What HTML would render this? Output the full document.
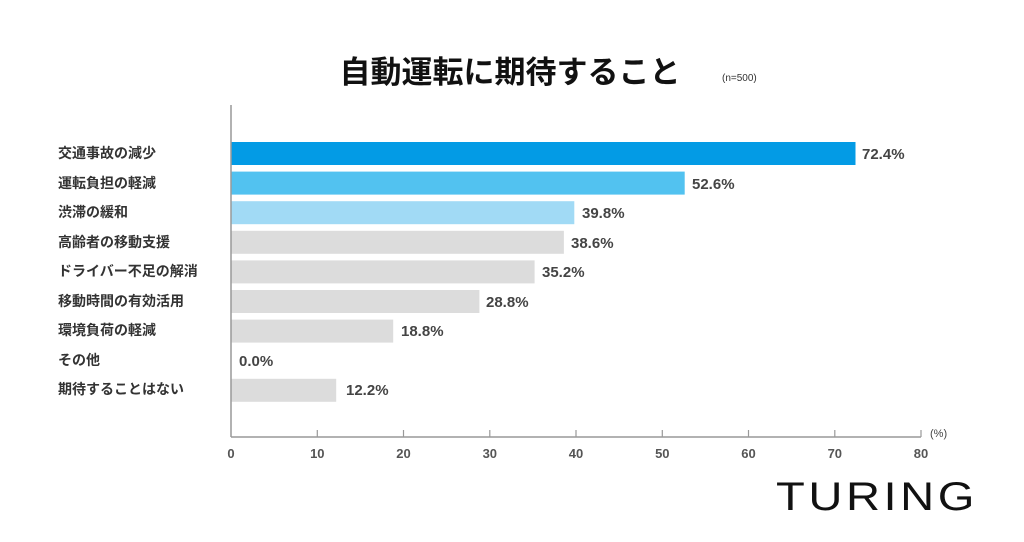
<!DOCTYPE html>
<html><head><meta charset="utf-8"><style>
body{margin:0;background:#fff;}
svg text{font-family:"Liberation Sans","Noto Sans CJK JP",sans-serif;}
</style></head><body>
<svg width="1024" height="537" viewBox="0 0 1024 537" xmlns="http://www.w3.org/2000/svg">
<rect width="1024" height="537" fill="#fff"/>
<text x="510" y="83" text-anchor="middle" font-size="31" font-weight="bold" fill="#111">自動運転に期待すること</text>
<text x="722" y="81" font-size="10" fill="#333">(n=500)</text>
<g font-size="14" font-weight="bold" fill="#333">
<text x="58" y="158">交通事故の減少</text>
<text x="58" y="188">運転負担の軽減</text>
<text x="58" y="217">渋滞の緩和</text>
<text x="58" y="247">高齢者の移動支援</text>
<text x="58" y="276">ドライバー不足の解消</text>
<text x="58" y="306">移動時間の有効活用</text>
<text x="58" y="335">環境負荷の軽減</text>
<text x="58" y="365">その他</text>
<text x="58" y="394">期待することはない</text>
</g>
<rect x="231" y="142" width="624.5" height="23" fill="#039be5"/>
<rect x="231" y="171.6" width="453.7" height="23" fill="#52c2f0"/>
<rect x="231" y="201.2" width="343.3" height="23" fill="#a1daf5"/>
<rect x="231" y="230.8" width="332.9" height="23" fill="#dcdcdc"/>
<rect x="231" y="260.4" width="303.6" height="23" fill="#dcdcdc"/>
<rect x="231" y="290" width="248.4" height="23" fill="#dcdcdc"/>
<rect x="231" y="319.6" width="162.2" height="23" fill="#dcdcdc"/>
<rect x="231" y="378.8" width="105.2" height="23" fill="#dcdcdc"/>
<g font-size="15" font-weight="bold" fill="#444">
<text x="862" y="159">72.4%</text>
<text x="692" y="189">52.6%</text>
<text x="582" y="218">39.8%</text>
<text x="571" y="248">38.6%</text>
<text x="542" y="277">35.2%</text>
<text x="486" y="307">28.8%</text>
<text x="401" y="336">18.8%</text>
<text x="239" y="366">0.0%</text>
<text x="346" y="395">12.2%</text>
</g>
<line x1="231" y1="105" x2="231" y2="437" stroke="#999" stroke-width="1.5"/>
<line x1="231" y1="437" x2="921" y2="437" stroke="#999" stroke-width="1.5"/>
<g stroke="#999" stroke-width="1.2">
<line x1="317.3" y1="430" x2="317.3" y2="437"/><line x1="403.5" y1="430" x2="403.5" y2="437"/>
<line x1="489.8" y1="430" x2="489.8" y2="437"/><line x1="576" y1="430" x2="576" y2="437"/>
<line x1="662.3" y1="430" x2="662.3" y2="437"/><line x1="748.5" y1="430" x2="748.5" y2="437"/>
<line x1="834.8" y1="430" x2="834.8" y2="437"/><line x1="921" y1="430" x2="921" y2="437"/>
</g>
<g font-size="13" font-weight="bold" fill="#555" text-anchor="middle">
<text x="231" y="458">0</text><text x="317.3" y="458">10</text><text x="403.5" y="458">20</text>
<text x="489.8" y="458">30</text><text x="576" y="458">40</text><text x="662.3" y="458">50</text>
<text x="748.5" y="458">60</text><text x="834.8" y="458">70</text><text x="921" y="458">80</text>
</g>
<text x="930" y="437" font-size="11" fill="#444">(%)</text>
<text x="776" y="510" font-size="40" fill="#111" letter-spacing="3" font-weight="normal" textLength="202" lengthAdjust="spacingAndGlyphs">TURING</text>
</svg>
</body></html>
